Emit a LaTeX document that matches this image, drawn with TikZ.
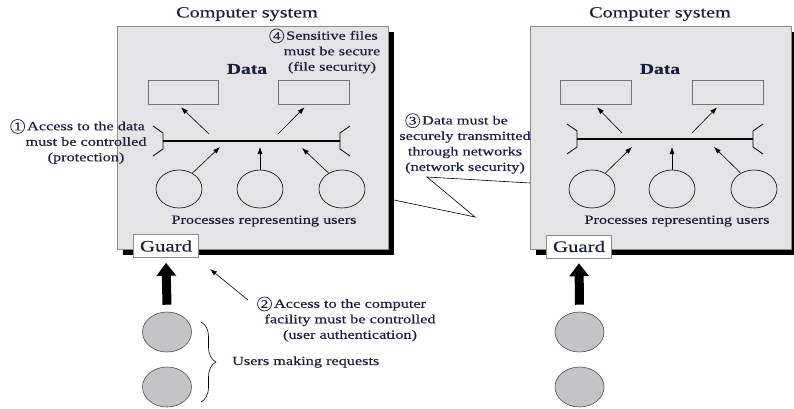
\documentclass[tikz,border=0pt]{standalone}
\usepackage{fontspec}
\setmainfont{Liberation Serif}[FakeStretch=1.3,FakeBold=0.35]
\usetikzlibrary{arrows.meta,shapes.geometric,decorations.pathreplacing}
\definecolor{inkblue}{RGB}{26,30,62}
\definecolor{boxgray}{RGB}{228,228,230}
\definecolor{usergray}{RGB}{196,196,198}
% circled step number
\newcommand{\cnum}[1]{\tikz[baseline=(c.base)]\node[circle,draw=inkblue,line width=0.7pt,inner sep=0pt,minimum size=14pt,font=\fontsize{11.5}{11.5}\selectfont] (c) {#1};}

\begin{document}
\begin{tikzpicture}[x=1pt,y=-1pt]
  \tikzstyle{shade}=[fill=black,minimum height=223pt,inner sep=0]
  \tikzstyle{sysbox}=[draw=black!45,fill=boxgray,line width=0.6pt,minimum height=223pt,inner sep=0]
  \tikzstyle{title}=[text=inkblue,font=\fontsize{15.5}{16}\selectfont]
  \tikzstyle{datalbl}=[text=inkblue,font=\bfseries\fontsize{15}{15}\selectfont]
  \tikzstyle{store}=[draw=black!55,line width=0.6pt,minimum height=24pt,inner sep=0]
  \tikzstyle{proc}=[ellipse,draw,line width=0.6pt,minimum width=46pt,minimum height=38pt]
  \tikzstyle{user}=[ellipse,draw=black!70,line width=0.6pt,fill=usergray,minimum width=49pt,minimum height=40pt]
  \tikzstyle{guard}=[draw=black!45,fill=white,line width=0.6pt,minimum width=65pt,minimum height=23pt,inner sep=0,text=inkblue,font=\fontsize{16}{16}\selectfont]
  \tikzstyle{note}=[align=center,inner sep=0,text=inkblue,font=\fontsize{12.5}{15.5}\selectfont]
  \tikzstyle{bus}=[draw,line width=1.3pt]
  \tikzstyle{line}=[draw,line width=0.6pt,-{Latex[length=7pt,width=5pt]}]
  \tikzstyle{push}=[draw,line width=9pt,-{Triangle[length=13pt,width=19pt]}]
  \useasboundingbox (0,0) rectangle (794,408);

  % the two computer systems, each with a solid shadow
  \node[shade,minimum width=271pt] (lshade) at (258.5,143.5) {};
  \node[shade,minimum width=261pt] (rshade) at (666.5,143.5) {};
  \node[sysbox,minimum width=271pt] (lsys) at (252.5,137.5) {};
  \node[sysbox,minimum width=261pt] (rsys) at (660.5,137.5) {};

  % left system
  \node[title] (ltitle) at (247,14) {Computer system};
  \node[datalbl] (ldata) at (247,69) {Data};
  \node[store,minimum width=70pt] (lfile1) at (183,92) {};
  \node[store,minimum width=71pt] (lfile2) at (313.5,92) {};
  \coordinate (lbusw) at (163,141);
  \coordinate (lbuse) at (340,141);
  \draw[bus] (lbusw) -- (lbuse);
  \draw[line width=0.8pt] ([shift={(-10,-15)}]lbusw) -- ([shift={(0,-8)}]lbusw) -- ([shift={(0,8)}]lbusw) -- ([shift={(-10,15)}]lbusw);
  \draw[line width=0.8pt] ([shift={(10,-15)}]lbuse) -- ([shift={(0,-8)}]lbuse) -- ([shift={(0,8)}]lbuse) -- ([shift={(10,15)}]lbuse);
  \coordinate (lout1) at (209,134);
  \coordinate (lout2) at (278,134);
  \draw[line] (lout1) -- ([shift={(-2,3)}]lfile1.south);
  \draw[line] (lout2) -- ([shift={(-9,3)}]lfile2.south);
  \node[proc] (lproc1) at (179,189) {};
  \node[proc] (lproc2) at (260,189) {};
  \node[proc] (lproc3) at (342,189) {};
  \coordinate (lin1) at (220,147);
  \coordinate (lin2) at (260,147);
  \coordinate (lin3) at (302,148);
  \draw[line] (lproc1.50) -- (lin1);
  \draw[line] (lproc2.north) -- (lin2);
  \draw[line] (lproc3.130) -- (lin3);
  \node[note] (lprocs) at (264,221) {Processes representing users};
  \node[guard] (lguard) at (166,246) {Guard};
  \node[user] (luser1) at (167,332) {};
  \node[user] (luser2) at (167,387) {};
  \draw[push] ([yshift=7pt]luser1.north) -- ([yshift=-5pt]lguard.south);

  % right system
  \node[title] (rtitle) at (660,14) {Computer system};
  \node[datalbl] (rdata) at (660,69) {Data};
  \node[store,minimum width=71pt] (rfile1) at (595.5,92) {};
  \node[store,minimum width=71pt] (rfile2) at (727.5,92) {};
  \coordinate (rbusw) at (577,139);
  \coordinate (rbuse) at (753,139);
  \draw[bus] (rbusw) -- (rbuse);
  \draw[line width=0.8pt] ([shift={(-10,-15)}]rbusw) -- ([shift={(0,-8)}]rbusw) -- ([shift={(0,8)}]rbusw) -- ([shift={(-10,15)}]rbusw);
  \draw[line width=0.8pt] ([shift={(10,-15)}]rbuse) -- ([shift={(0,-8)}]rbuse) -- ([shift={(0,8)}]rbuse) -- ([shift={(10,15)}]rbuse);
  \coordinate (rout1) at (622,133);
  \coordinate (rout2) at (692,133);
  \draw[line] (rout1) -- ([shift={(1.5,3)}]rfile1.south);
  \draw[line] (rout2) -- ([shift={(-10.5,3)}]rfile2.south);
  \node[proc] (rproc1) at (592,189) {};
  \node[proc] (rproc2) at (672,189) {};
  \node[proc] (rproc3) at (754,189) {};
  \coordinate (rin1) at (632,147);
  \coordinate (rin2) at (672,147);
  \coordinate (rin3) at (714,147);
  \draw[line] (rproc1.50) -- (rin1);
  \draw[line] (rproc2.north) -- (rin2);
  \draw[line] (rproc3.130) -- (rin3);
  \node[note] (rprocs) at (677,221) {Processes representing users};
  \node[guard] (rguard) at (579,246.5) {Guard};
  \node[user] (ruser1) at (579.5,332) {};
  \node[user] (ruser2) at (579.5,387) {};
  \draw[push] ([yshift=7pt]ruser1.north) -- ([yshift=-5pt]rguard.south);

  % network callout
  \coordinate (callr) at (530,183);
  \coordinate (callknee) at (427,177);
  \coordinate (calltip) at (475,217);
  \coordinate (calll) at (394,200);
  \draw[line width=0.6pt] (callr) -- (callknee) -- (calltip) -- (calll);

  % notes
  \node[note] (note1) at (86,141.5) {\llap{\cnum{1}\,}Access to the data\\must be controlled\\(protection)};
  \node[note] (note4) at (332,51) {\llap{\cnum{4}\,}Sensitive files\\must be secure\\(file security)};
  \node[note] (note3) at (465,143.5) {\llap{\cnum{3}\,}Data must be\\securely transmitted\\through networks\\(network security)};
  \node[note] (note2) at (350,319) {\llap{\cnum{2}\,}Access to the computer\\facility must be controlled\\(user authentication)};
  \coordinate (n2tail) at (248,300);
  \coordinate (n2tip) at (210,269);
  \draw[line] (n2tail) -- (n2tip);

  % users
  \coordinate (bracetop) at (201,322);
  \coordinate (bracebot) at (201,402);
  \draw[line width=0.6pt,decorate,decoration={brace,amplitude=15pt}] (bracetop) -- (bracebot);
  \node[note,anchor=west] (lreq) at (232,362) {Users making requests};
\end{tikzpicture}
\end{document}
